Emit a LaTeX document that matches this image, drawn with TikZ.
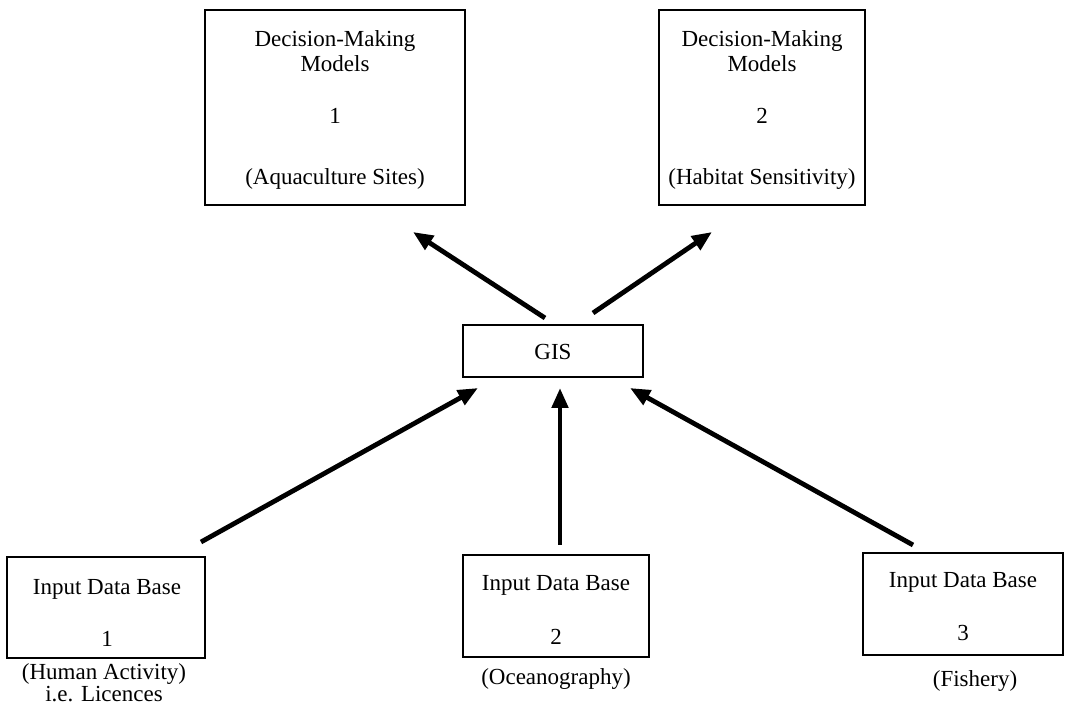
\documentclass[tikz,border=0pt]{standalone}
\usepackage{fontspec}
\setmainfont{Liberation Serif}
\usetikzlibrary{arrows.meta}
\begin{document}
\begin{tikzpicture}[x=0.5pt,y=-0.5pt,
  box/.style={draw,line width=1.3pt,inner sep=0pt},
  txt/.style={font=\fontsize{11.5pt}{13pt}\selectfont,inner sep=0pt,anchor=base},
  conn/.style={line width=2.4pt,-{Triangle[length=10pt,width=8pt]}}]
\useasboundingbox (0,0) rectangle (1066,726);
% boxes
\node[box,minimum width=130pt,minimum height=97.5pt] (t1) at (335,107.5) {};
\node[box,minimum width=103pt,minimum height=97.5pt] (t2) at (762,107.5) {};
\node[box,minimum width=90pt,minimum height=26pt] (gis) at (553,351) {};
\node[box,minimum width=99pt,minimum height=50.5pt] (b1) at (106,607.5) {};
\node[box,minimum width=93pt,minimum height=51pt] (b2) at (556,606) {};
\node[box,minimum width=100pt,minimum height=51pt] (b3) at (963,604) {};
% texts
\node[txt] (t1a) at (335,47) {Decision-Making};
\node[txt] (t1b) at (335,72) {Models};
\node[txt] (t1c) at (335,124) {1};
\node[txt] (t1d) at (335,185) {(Aquaculture Sites)};
\node[txt] (t2a) at (762,47) {Decision-Making};
\node[txt] (t2b) at (762,72) {Models};
\node[txt] (t2c) at (762,124) {2};
\node[txt] (t2d) at (762,185) {(Habitat Sensitivity)};
\node[txt] (gist) at (553,360) {GIS};
\node[txt] (b1a) at (107,595) {Input Data Base};
\node[txt] (b1b) at (107,647) {1};
\node[txt] (b1c) at (104,680) {(Human Activity)};
\node[txt] (b1d) at (104,702) {i.e. Licences};
\node[txt] (b2a) at (556,591) {Input Data Base};
\node[txt] (b2b) at (556,645) {2};
\node[txt] (b2c) at (556,685) {(Oceanography)};
\node[txt] (b3a) at (963,588) {Input Data Base};
\node[txt] (b3b) at (963,641) {3};
\node[txt] (b3c) at (975,687) {(Fishery)};
% connector ends
\coordinate (a1s) at (545,318);
\coordinate (a1e) at (413,232);
\coordinate (a2s) at (593,313);
\coordinate (a2e) at (712,232);
\coordinate (a3s) at (201,542);
\coordinate (a3e) at (478,388);
\coordinate (a4s) at (560,545);
\coordinate (a4e) at (560,388);
\coordinate (a5s) at (913,545);
\coordinate (a5e) at (630,388);
\draw[conn] (a1s) -- (a1e);
\draw[conn] (a2s) -- (a2e);
\draw[conn] (a3s) -- (a3e);
\draw[conn] (a4s) -- (a4e);
\draw[conn] (a5s) -- (a5e);
\end{tikzpicture}
\end{document}
